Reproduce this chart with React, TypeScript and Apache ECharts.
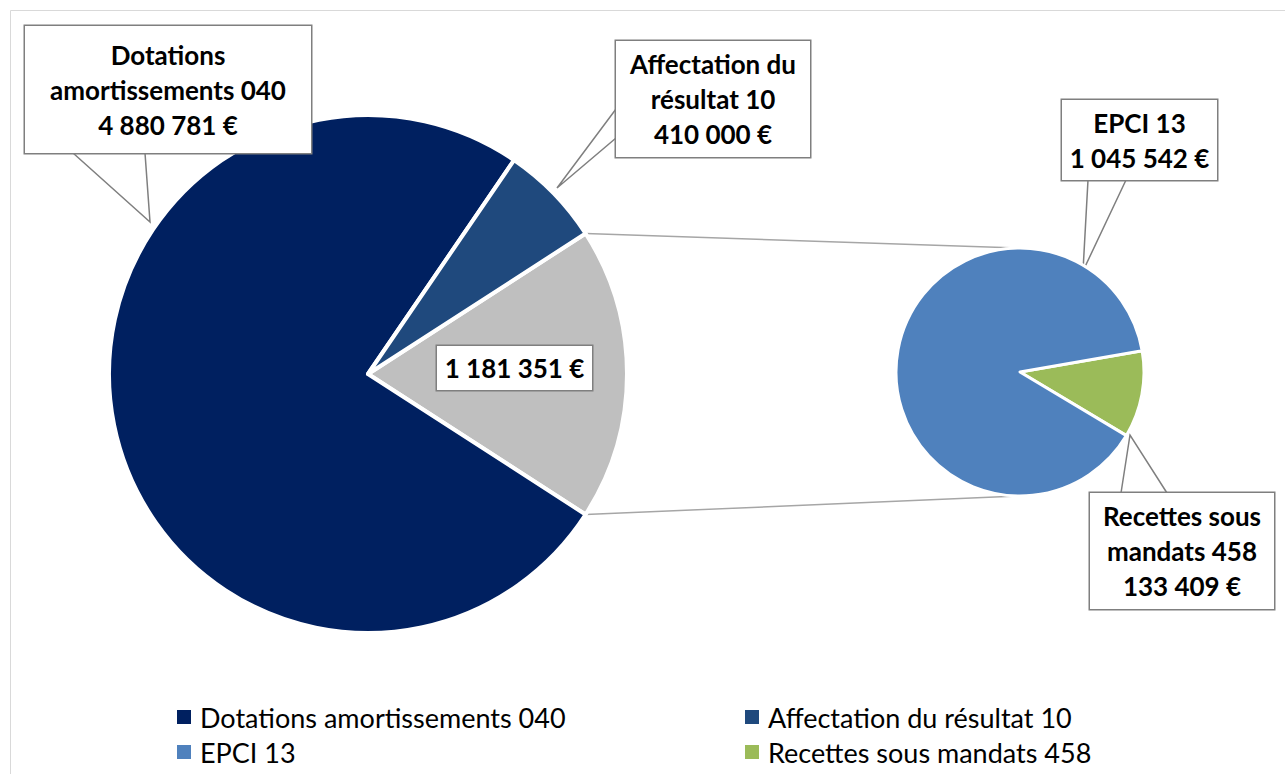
import React, { useEffect, useRef } from "react";
import * as echarts from "echarts";

// ---------- data ----------
const mainCategories = ["Autres", "Dotations amortissements 040", "Affectation du résultat 10"];
const mainValues = [1181351, 4880781, 410000];
const mainColors = ["#BFBFBF", "#002060", "#1F497D"];

const subCategories = ["Recettes sous mandats 458", "EPCI 13"];
const subValues = [133409, 1045542];
const subColors = ["#9BBB59", "#4F81BD"];

// legend order: row by row, two columns
const legendItems = [
  "Dotations amortissements 040",
  "Affectation du résultat 10",
  "EPCI 13",
  "Recettes sous mandats 458",
];

const labelTitles: Record<string, string> = {
  "Dotations amortissements 040": "Dotations\namortissements 040",
  "Affectation du résultat 10": "Affectation du\nrésultat 10",
  "EPCI 13": "EPCI 13",
  "Recettes sous mandats 458": "Recettes sous\nmandats 458",
  Autres: "",
};

// ---------- layout ----------
const MAIN = { cx: 368, cy: 374, r: 259 };
const SUB = { cx: 1020, cy: 372, r: 124 };
const FONT = "Lato";
const LABEL_FS = 26;
const LH = 35;
const LEGEND_COLS = [177, 745];
const LEGEND_ROWS = [717, 752];

type Callout = { box: number[]; base?: number[][]; tip?: number[] };
const callouts: Record<string, Callout> = {
  "Dotations amortissements 040": { box: [25, 26, 311, 153], base: [[73, 153], [145, 153]], tip: [150, 222] },
  "Affectation du résultat 10": { box: [616, 41, 810, 157], base: [[616, 109], [616, 138]], tip: [557, 188] },
  Autres: { box: [437, 346, 592, 390] },
  "EPCI 13": { box: [1062, 100, 1217, 180], base: [[1088, 180], [1126, 180]], tip: [1083, 271] },
  "Recettes sous mandats 458": { box: [1090, 493, 1274, 609], base: [[1121, 493], [1167, 493]], tip: [1130, 435] },
};

const fmt = (v: number) => String(v).replace(/\B(?=(\d{3})+(?!\d))/g, " ") + " €";

function labelText(name: string, value: number) {
  const t = labelTitles[name];
  return t ? t + "\n" + fmt(value) : fmt(value);
}

function buildData(names: string[], values: number[], colors: string[]) {
  return names.map((name, i) => {
    const c = callouts[name];
    const text = labelText(name, values[i]);
    const nLines = text.split("\n").length;
    const w = c.box[2] - c.box[0];
    const h = c.box[3] - c.box[1];
    const padV = Math.max(0, (h - nLines * LH) / 2);
    return {
      name,
      value: values[i],
      itemStyle: { color: colors[i] },
      label: {
        formatter: text,
        width: w,
        padding: [padV, 0, padV, 0],
      },
      labelLine: { show: !!c.tip },
    };
  });
}

function layoutFor(names: string[]) {
  return (params: any) => {
    const c = callouts[names[params.dataIndex]];
    const out: any = {
      x: (c.box[0] + c.box[2]) / 2,
      y: (c.box[1] + c.box[3]) / 2,
      align: "center",
      verticalAlign: "middle",
    };
    if (c.tip && c.base) {
      out.labelLinePoints = [c.base[0], c.tip, c.base[1]];
    }
    return out;
  };
}

const labelCommon = {
  show: true,
  position: "outside",
  fontFamily: FONT,
  fontWeight: "bold",
  fontSize: LABEL_FS,
  lineHeight: LH,
  color: "#000000",
  align: "center",
  backgroundColor: "#FFFFFF",
  borderColor: "#7F7F7F",
  borderWidth: 1.5,
};

export default function App() {
  const ref = useRef<HTMLDivElement>(null);

  useEffect(() => {
    if (!ref.current) return;
    const chart = echarts.init(ref.current, undefined, { renderer: "svg" });

    const mainTotal = mainValues.reduce((a, b) => a + b, 0);
    const half = (mainValues[0] / mainTotal) * 180;
    const subTotal = subValues.reduce((a, b) => a + b, 0);
    const subStart = (subValues[0] / subTotal) * 180 - 10.5;
    const rad = (half * Math.PI) / 180;
    const pTop = [MAIN.cx + MAIN.r * Math.cos(rad), MAIN.cy - MAIN.r * Math.sin(rad)];
    const pBot = [MAIN.cx + MAIN.r * Math.cos(rad), MAIN.cy + MAIN.r * Math.sin(rad)];
    const sTop = [SUB.cx, SUB.cy - SUB.r];
    const sBot = [SUB.cx, SUB.cy + SUB.r];

    const LEG_LH = 30;
    const legends = legendItems.map((name, i) => ({
      orient: "horizontal",
      left: LEGEND_COLS[i % 2],
      top: LEGEND_ROWS[Math.floor(i / 2)] - LEG_LH / 2,
      padding: 0,
      itemWidth: 14,
      itemHeight: 14,
      icon: "rect",
      selectedMode: false,
      itemStyle: { borderWidth: 0 },
      data: [name],
      textStyle: {
        fontFamily: FONT,
        fontSize: 27,
        color: "#000000",
        lineHeight: LEG_LH,
        padding: [0, 0, 0, 4],
      },
    }));

    chart.setOption({
      animation: false,
      backgroundColor: "#FFFFFF",
      legend: legends,
      graphic: [
        {
          type: "rect",
          silent: true,
          z: -10,
          shape: { x: 10.5, y: 10.5, width: 1400, height: 900 },
          style: { fill: "none", stroke: "#D9D9D9", lineWidth: 1 },
        },
        {
          type: "line",
          silent: true,
          shape: { x1: pTop[0], y1: pTop[1], x2: sTop[0], y2: sTop[1] },
          style: { stroke: "#A6A6A6", lineWidth: 1.5 },
        },
        {
          type: "line",
          silent: true,
          shape: { x1: pBot[0], y1: pBot[1], x2: sBot[0], y2: sBot[1] },
          style: { stroke: "#A6A6A6", lineWidth: 1.5 },
        },
      ],
      series: [
        {
          type: "pie",
          center: [MAIN.cx, MAIN.cy],
          radius: MAIN.r,
          startAngle: half,
          clockwise: true,
          avoidLabelOverlap: false,
          silent: true,
          itemStyle: { borderColor: "#FFFFFF", borderWidth: 4 },
          label: labelCommon,
          labelLine: { show: true, lineStyle: { color: "#7F7F7F", width: 1.5 } },
          labelLayout: layoutFor(mainCategories),
          data: buildData(mainCategories, mainValues, mainColors),
        },
        {
          type: "pie",
          center: [SUB.cx, SUB.cy],
          radius: SUB.r,
          startAngle: subStart,
          clockwise: true,
          avoidLabelOverlap: false,
          silent: true,
          itemStyle: { borderColor: "#FFFFFF", borderWidth: 3 },
          label: labelCommon,
          labelLine: { show: true, lineStyle: { color: "#7F7F7F", width: 1.5 } },
          labelLayout: layoutFor(subCategories),
          data: buildData(subCategories, subValues, subColors),
        },
      ],
    });

    return () => chart.dispose();
  }, []);

  return (
    <div
      ref={ref}
      style={{ position: "absolute", left: 0, top: 0, width: 1285, height: 774, background: "#FFFFFF" }}
    />
  );
}
